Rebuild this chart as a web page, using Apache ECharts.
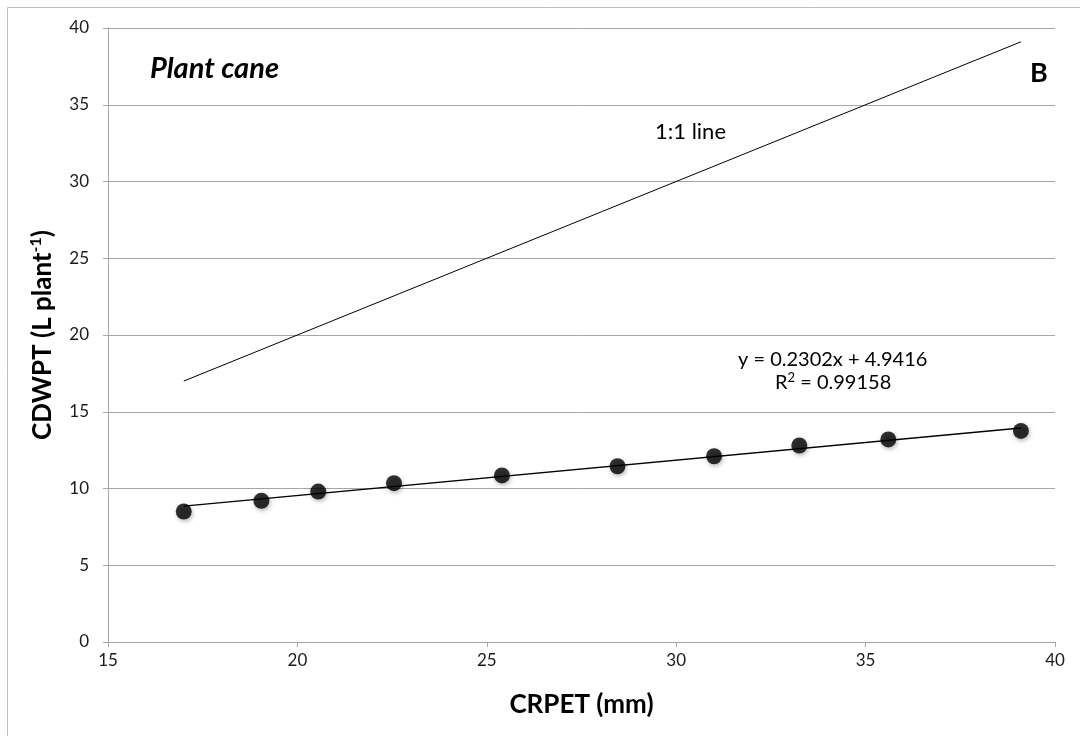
<!DOCTYPE html>
<html>
<head>
<meta charset="utf-8">
<title>Plant cane</title>
<script src="https://cdn.jsdelivr.net/npm/echarts@6/dist/echarts.min.js"></script>
<style>
  html, body { margin: 0; padding: 0; background: #fff; }
  #chart { width: 1080px; height: 736px; }
</style>
</head>
<body>
<div id="chart"></div>
<script>
// 观测点 CRPET (mm) / CDWPT (L plant-1)
var crpet = [17.0, 19.05, 20.55, 22.55, 25.4, 28.45, 31.0, 33.25, 35.6, 39.1];
var cdwpt = [8.5, 9.2, 9.8, 10.35, 10.85, 11.45, 12.1, 12.8, 13.2, 13.75];

// 趋势线端点 (y = 0.2302x + 4.9416)
var trendX = [17.0, 39.1];
var trendY = [8.85, 13.94];

// 1:1 线端点
var oneX = [17.0, 39.1];
var oneY = [17.0, 39.1];

var xTicks = [15, 20, 25, 30, 35, 40];
var yTicks = [0, 5, 10, 15, 20, 25, 30, 35, 40];

function pairs(xs, ys) {
    var out = [];
    for (var i = 0; i < xs.length; i++) {
        out.push([xs[i], ys[i]]);
    }
    return out;
}

var font = 'Lato';
var gridColor = '#a6a6a6';

var myChart = echarts.init(document.getElementById('chart'));

var option = {
    backgroundColor: '#fff',
    animation: false,
    grid: {
        left: 108,
        right: 25,
        top: 28,
        bottom: 94
    },
    xAxis: {
        type: 'value',
        min: xTicks[0],
        max: xTicks[xTicks.length - 1],
        interval: 5,
        name: 'CRPET (mm)',
        nameLocation: 'middle',
        nameGap: 50,
        nameTextStyle: {
            fontFamily: font,
            fontWeight: 'bold',
            fontSize: 26,
            color: '#000'
        },
        axisLine: { show: true, lineStyle: { color: gridColor, width: 1 } },
        axisTick: { show: true, length: 5, lineStyle: { color: gridColor } },
        axisLabel: { fontFamily: font, fontSize: 17, color: '#1a1a1a', margin: 10 },
        splitLine: { show: false }
    },
    yAxis: {
        type: 'value',
        min: yTicks[0],
        max: yTicks[yTicks.length - 1],
        interval: 5,
        name: '{m|CDWPT (L plant}{s|-1}{m|)}',
        nameLocation: 'middle',
        nameGap: 50,
        nameRotate: 90,
        nameTextStyle: {
            rich: {
                m: { fontFamily: font, fontWeight: 'bold', fontSize: 26, color: '#000', lineHeight: 30 },
                s: { fontFamily: font, fontWeight: 'bold', fontSize: 16, color: '#000', verticalAlign: 'top', lineHeight: 30, padding: [0, 0, 10, 0] }
            }
        },
        axisLine: { show: true, lineStyle: { color: gridColor, width: 1 } },
        axisTick: { show: true, length: 5, lineStyle: { color: gridColor } },
        axisLabel: { fontFamily: font, fontSize: 17, color: '#1a1a1a', margin: 19 },
        splitLine: { show: true, lineStyle: { color: gridColor, width: 1 } }
    },
    graphic: [
        {
            type: 'rect',
            silent: true,
            shape: { x: 7.5, y: 7.5, width: 1200, height: 900 },
            style: { fill: 'none', stroke: '#bfbfbf', lineWidth: 1 }
        },
        {
            type: 'text',
            left: 150, top: 54,
            style: { text: 'Plant cane', font: 'italic bold 29px Lato', fill: '#000' }
        },
        {
            type: 'text',
            left: 1030, top: 60,
            style: { text: 'B', font: 'bold 27px Lato', fill: '#000' }
        },
        {
            type: 'text',
            left: 655, top: 121,
            style: { text: '1:1 line', font: '22px Lato', fill: '#000' }
        },
        {
            type: 'text',
            left: 738, top: 350,
            style: { text: 'y = 0.2302x + 4.9416', font: '20px Lato', fill: '#000' }
        },
        {
            type: 'text',
            left: 775, top: 371,
            style: {
                text: '{n|R}{s|2}{n| = 0.99158}',
                rich: {
                    n: { fontFamily: font, fontSize: 20, color: '#000', lineHeight: 24 },
                    s: { fontFamily: font, fontSize: 13, color: '#000', verticalAlign: 'top', lineHeight: 24, padding: [0, 0, 8, 0] }
                }
            }
        }
    ],
    series: [
        {
            name: '1:1 line',
            type: 'line',
            data: pairs(oneX, oneY),
            symbol: 'none',
            lineStyle: { color: '#000', width: 1 },
            z: 2
        },
        {
            name: 'trend',
            type: 'line',
            data: pairs(trendX, trendY),
            symbol: 'none',
            lineStyle: { color: '#000', width: 1.3 },
            z: 2
        },
        {
            name: 'CDWPT',
            type: 'scatter',
            data: pairs(crpet, cdwpt),
            symbol: 'circle',
            symbolSize: 16,
            itemStyle: {
                color: '#000',
                shadowBlur: 4,
                shadowOffsetX: 1,
                shadowOffsetY: 2,
                shadowColor: 'rgba(0,0,0,0.35)'
            },
            z: 3
        }
    ]
};

myChart.setOption(option);
</script>
</body>
</html>
